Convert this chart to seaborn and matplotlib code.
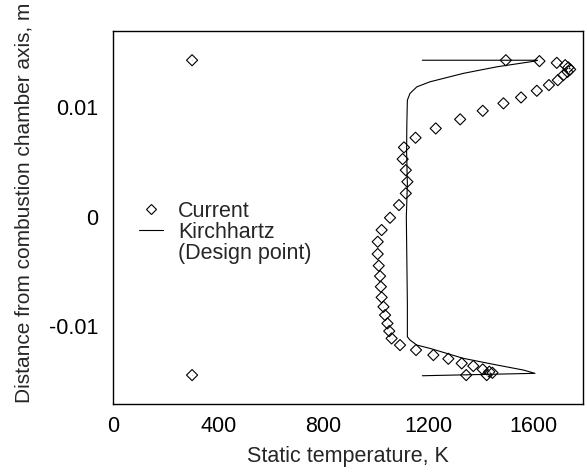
import seaborn as sns
import matplotlib.pyplot as plt
import pandas as pd
from matplotlib.lines import Line2D

# Données : température statique (K) et distance à l'axe (m)
current_T = [300, 1495, 1623, 1689, 1721, 1733, 1740, 1730, 1714, 1693,
             1659, 1613, 1553, 1486, 1407, 1321, 1228, 1151, 1107, 1102,
             1114, 1120, 1114, 1088, 1054, 1022, 1007, 1007, 1011, 1016,
             1019, 1022, 1029, 1035, 1044, 1051, 1060, 1092, 1153, 1219,
             1276, 1327, 1371, 1407, 1432, 1444, 1422, 1344, 300]
current_y = [0.0143, 0.0143, 0.01422, 0.01406, 0.01385, 0.01364, 0.01346, 0.01324, 0.01294, 0.01248,
             0.01203, 0.01151, 0.0109, 0.01036, 0.00968, 0.0089, 0.00807, 0.00722, 0.00634, 0.00527,
             0.00426, 0.0032, 0.00214, 0.00107, -0.00009, -0.00121, -0.00228, -0.0034, -0.00447, -0.00542,
             -0.00639, -0.00736, -0.00822, -0.00898, -0.00974, -0.01044, -0.01111, -0.01172, -0.01217, -0.01263,
             -0.01297, -0.01339, -0.01363, -0.01394, -0.01415, -0.01425, -0.01446, -0.01446, -0.01446]

kirch_T = [1177, 1615, 1606, 1461, 1333, 1206, 1156, 1130, 1120, 1118, 1117, 1120,
           1116, 1118, 1120, 1120, 1130, 1156, 1206, 1333, 1461, 1562, 1606, 1177]
kirch_y = [0.0143, 0.0143, 0.01422, 0.0137, 0.0131, 0.01233, 0.01187, 0.01127, 0.01066, 0.00853, 0.006, 0.003,
           0.0, -0.004, -0.008, -0.01096, -0.01126, -0.01172, -0.01202, -0.01293, -0.01354, -0.014, -0.0143, -0.01452]

x_ticks = [0, 400, 800, 1200, 1600]
y_ticks = [-0.01, 0, 0.01]
y_tick_labels = ['-0.01', '0', '0.01']

current = pd.DataFrame({'T': current_T, 'y': current_y})
kirch = pd.DataFrame({'T': kirch_T, 'y': kirch_y})

sns.set_style('white')
plt.rcParams['font.family'] = ['Liberation Sans', 'DejaVu Sans']
plt.rcParams['axes.unicode_minus'] = False

fig = plt.figure(figsize=(5.87, 4.75), dpi=100)
ax = fig.add_axes([0.193, 0.1495, 0.8007, 0.7859])

# Courbe de référence (Kirchhartz)
sns.lineplot(data=kirch, x='T', y='y', sort=False, estimator=None,
             color='black', linewidth=0.8, ax=ax)
# Points calculés : losanges vides avec un point au centre
sns.scatterplot(data=current, x='T', y='y', marker='D', s=32,
                facecolor='none', edgecolor='black', linewidth=0.8, ax=ax)
sns.scatterplot(data=current, x='T', y='y', marker='.', s=2,
                color='black', linewidth=0, ax=ax)

ax.set_xlim(0, 1790)
ax.set_ylim(-0.0171, 0.0170)
ax.set_xticks(x_ticks)
ax.set_yticks(y_ticks)
ax.set_yticklabels(y_tick_labels)
ax.tick_params(direction='in', length=6, width=0.8, labelsize=15.5,
               colors='black', pad=9)
ax.tick_params(axis='y', pad=11)
for sp in ax.spines.values():
    sp.set_color('black')
    sp.set_linewidth(1.0)

ax.set_xlabel('Static temperature, K', fontsize=15.5, labelpad=6)
ax.set_ylabel('Distance from combustion chamber axis, m', fontsize=15)
ax.yaxis.set_label_coords(-0.17, 0.54)

handles = [Line2D([], [], marker='D', markersize=5.6, markerfacecolor='none',
                  markeredgecolor='black', markeredgewidth=0.8, linestyle='none'),
           Line2D([], [], color='black', linewidth=0.8),
           Line2D([], [], linestyle='none')]
ax.legend(handles, ['Current', 'Kirchhartz', '(Design point)'],
          loc='upper left', bbox_to_anchor=(0.055, 0.545), frameon=False,
          fontsize=15.5, handlelength=1.12, handletextpad=0.7,
          labelspacing=0.02, borderpad=0, borderaxespad=0)

plt.savefig('out.png', dpi=100)
